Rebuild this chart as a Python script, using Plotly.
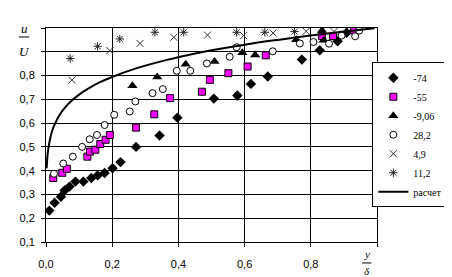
import plotly.graph_objects as go

# ---- data ----
s74_x = [0.010, 0.026, 0.045, 0.056, 0.071, 0.089, 0.113, 0.137, 0.156, 0.177, 0.201, 0.225,
         0.272, 0.343, 0.397, 0.507, 0.578, 0.619, 0.670, 0.773, 0.827, 0.881, 0.908]
s74_y = [0.232, 0.265, 0.290, 0.317, 0.333, 0.354, 0.354, 0.369, 0.380, 0.390, 0.410, 0.436,
         0.500, 0.548, 0.623, 0.703, 0.716, 0.765, 0.796, 0.867, 0.906, 0.944, 0.980]

s55_x = [0.022, 0.049, 0.063, 0.125, 0.133, 0.149, 0.164, 0.180, 0.193, 0.272, 0.327, 0.375,
         0.471, 0.495, 0.551, 0.609, 0.664, 0.834, 0.867, 0.931]
s55_y = [0.369, 0.391, 0.408, 0.459, 0.480, 0.488, 0.512, 0.530, 0.550, 0.581, 0.637, 0.705,
         0.732, 0.782, 0.810, 0.838, 0.885, 0.966, 0.966, 0.992]

s906_x = [0.261, 0.336, 0.422, 0.509, 0.593, 0.632, 0.756, 0.834, 0.839, 0.909]
s906_y = [0.757, 0.794, 0.848, 0.859, 0.896, 0.886, 0.951, 0.989, 0.948, 0.982]

s282_x = [0.024, 0.052, 0.081, 0.109, 0.132, 0.154, 0.177, 0.206, 0.253, 0.270, 0.322, 0.353,
          0.395, 0.436, 0.486, 0.555, 0.576, 0.685, 0.767, 0.808, 0.855, 0.893, 0.934, 0.946]
s282_y = [0.387, 0.430, 0.459, 0.500, 0.532, 0.550, 0.592, 0.635, 0.649, 0.691, 0.726, 0.743,
          0.820, 0.820, 0.851, 0.879, 0.919, 0.902, 0.935, 0.941, 0.934, 0.968, 0.965, 0.989]

s49_x = [0.078, 0.193, 0.284, 0.386, 0.488, 0.597, 0.686, 0.786, 0.870]
s49_y = [0.781, 0.905, 0.935, 0.961, 0.970, 0.968, 0.979, 0.986, 0.985]

s112_x = [0.073, 0.156, 0.223, 0.329, 0.416, 0.576, 0.661, 0.751]
s112_y = [0.872, 0.923, 0.954, 0.982, 0.982, 0.982, 0.982, 0.985]

calc_x = [0.002, 0.005, 0.011, 0.018, 0.026, 0.040, 0.054, 0.078, 0.100, 0.130, 0.160, 0.196,
          0.272, 0.365, 0.402, 0.500, 0.600, 0.700, 0.800, 0.900, 0.993]
calc_y = [0.410, 0.470, 0.525, 0.565, 0.594, 0.632, 0.660, 0.695, 0.720, 0.747, 0.770, 0.792,
          0.830, 0.866, 0.878, 0.906, 0.930, 0.950, 0.968, 0.985, 0.999]

x_ticks = [0.0, 0.2, 0.4, 0.6, 0.8, 1.0]
x_ticktext = ['0,0', '0,2', '0,4', '0,6', '0,8', '']
y_ticks = [0.1, 0.2, 0.3, 0.4, 0.5, 0.6, 0.7, 0.8, 0.9, 1.0]
y_ticktext = ['0,1', '0,2', '0,3', '0,4', '0,5', '0,6', '0,7', '0,8', '', '']

fig = go.Figure()

fig.add_trace(go.Scatter(x=s74_x, y=s74_y, mode='markers', name='-74',
                         marker=dict(symbol='diamond', size=8, color='black')))
fig.add_trace(go.Scatter(x=s55_x, y=s55_y, mode='markers', name='-55',
                         marker=dict(symbol='square', size=7, color='#FF00FF',
                                     line=dict(color='black', width=1))))
fig.add_trace(go.Scatter(x=s906_x, y=s906_y, mode='markers', name='-9,06',
                         marker=dict(symbol='triangle-up', size=9, color='black')))
fig.add_trace(go.Scatter(x=s282_x, y=s282_y, mode='markers', name='28,2',
                         marker=dict(symbol='circle', size=7, color='white',
                                     line=dict(color='black', width=1))))
fig.add_trace(go.Scatter(x=s49_x, y=s49_y, mode='markers', name='4,9',
                         marker=dict(symbol='x-thin-open', size=7, color='#333333',
                                     line=dict(color='#333333', width=1))))
fig.add_trace(go.Scatter(x=s112_x, y=s112_y, mode='markers', name='11,2',
                         marker=dict(symbol='asterisk-open', size=7, color='#222222',
                                     line=dict(color='#222222', width=1))))
fig.add_trace(go.Scatter(x=calc_x, y=calc_y, mode='lines', name='расчет',
                         line=dict(color='black', width=2, shape='spline')))

axis_common = dict(showline=True, linecolor='black', linewidth=1, mirror=True,
                   showgrid=True, gridcolor='#000000', gridwidth=1,
                   ticks='outside', ticklen=4, tickcolor='black', tickwidth=1,
                   zeroline=False,
                   tickfont=dict(family='Liberation Sans, Arial', size=11, color='black'))

fig.update_xaxes(range=[0, 1.0], tickvals=x_ticks, ticktext=x_ticktext,
                 ticklabelstandoff=8, **axis_common)
fig.update_yaxes(range=[0.1, 1.0], tickvals=y_ticks, ticktext=y_ticktext,
                 ticklabelstandoff=4, **axis_common)

ann_font = dict(family='Liberation Serif, Times New Roman', size=13, color='black')
fig.add_annotation(xref='paper', yref='paper', x=-0.065, y=1.0, text='<i>u</i>',
                   xanchor='center', yanchor='middle', showarrow=False, font=ann_font)
fig.add_annotation(xref='paper', yref='paper', x=-0.065, y=0.89, text='<i>U</i>',
                   xanchor='center', yanchor='middle', showarrow=False, font=ann_font)
fig.add_shape(type='line', xref='paper', yref='paper', x0=-0.082, x1=-0.051,
              y0=0.958, y1=0.958, line=dict(color='black', width=1))
fig.add_annotation(xref='paper', yref='paper', x=0.969, y=-0.058, text='<i>y</i>',
                   xanchor='center', yanchor='middle', showarrow=False,
                   font=dict(family='Liberation Serif', size=11, color='black'))
fig.add_annotation(xref='paper', yref='paper', x=0.969, y=-0.135, text='<i>δ</i>',
                   xanchor='center', yanchor='middle', showarrow=False,
                   font=dict(family='Liberation Serif', size=11, color='black'))
fig.add_shape(type='line', xref='paper', yref='paper', x0=0.955, x1=0.983,
              y0=-0.098, y1=-0.098, line=dict(color='black', width=1))

fig.update_layout(
    width=452, height=277,
    margin=dict(l=31, r=69, t=20, b=43),
    paper_bgcolor='white', plot_bgcolor='white',
    showlegend=True,
    legend=dict(x=0.986, y=0.84, xanchor='left', yanchor='top',
                bgcolor='white', bordercolor='black', borderwidth=1,
                font=dict(family='Liberation Serif, Times New Roman', size=10, color='black'),
                itemwidth=30, tracegroupgap=0),
)

fig.write_html("out.html")
